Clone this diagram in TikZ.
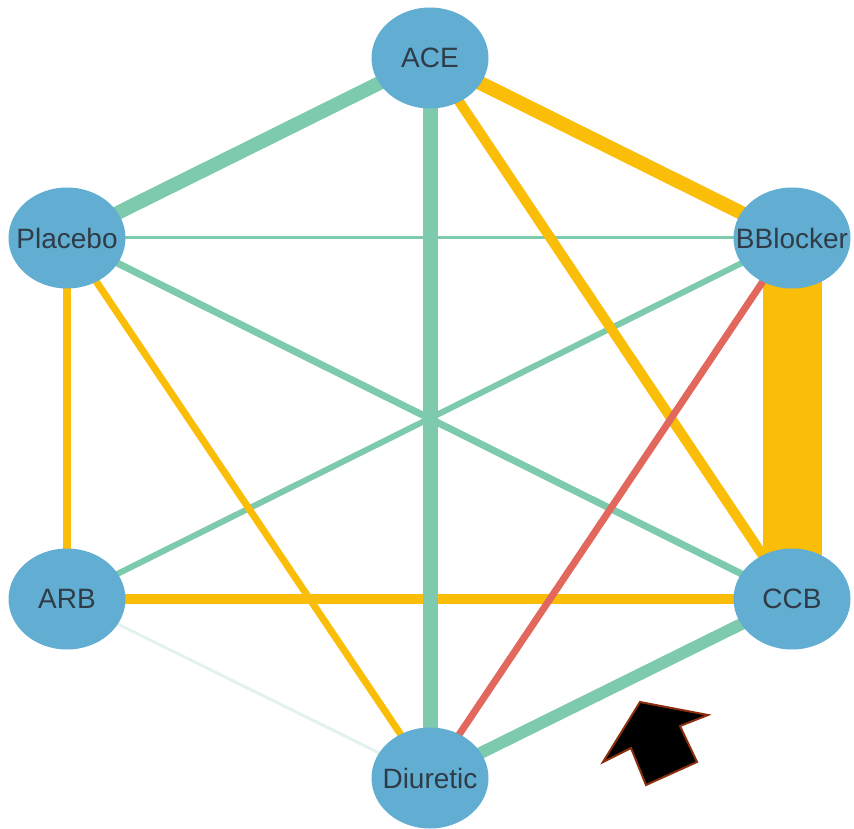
\documentclass[tikz,border=0pt]{standalone}
\usepackage{fontspec}
\setmainfont{Liberation Sans}
\usetikzlibrary{shapes.geometric}
\pgfdeclarelayer{background}
\pgfsetlayers{background,main}
\definecolor{nodeblue}{HTML}{62AED2}
\definecolor{lnkgreen}{HTML}{7ECAAD}
\definecolor{lnkorange}{HTML}{FABD08}
\definecolor{lnkred}{HTML}{E2675C}
\definecolor{lnkfaint}{HTML}{E4F2EE}
\definecolor{txtdark}{HTML}{2F3C48}
\definecolor{arrowrim}{HTML}{8A2E0C}
\tikzset{
  drug/.style={ellipse, fill=nodeblue, minimum width=117pt, minimum height=101pt, inner sep=0pt},
  lab/.style={text=txtdark, font=\fontsize{28}{32}\selectfont, inner sep=0pt},
  link/.style={line cap=butt},
  pointer/.style={fill=black, draw=arrowrim, line width=2pt, line join=miter}
}
\begin{document}
\begin{tikzpicture}[x=1pt,y=-1pt]
\useasboundingbox (0,0) rectangle (854,829);
% treatments
\node[drug, label={[lab]center:ACE}]      (ace) at (430,58)  {};
\node[drug, label={[lab]center:Placebo}]  (pla) at (67,238)  {};
\node[drug, label={[lab]center:BBlocker}] (bbl) at (792,238) {};
\node[drug, label={[lab]center:ARB}]      (arb) at (67,599)  {};
\node[drug, label={[lab]center:CCB}]      (ccb) at (792,599) {};
\node[drug, label={[lab]center:Diuretic}] (diu) at (430,778) {};
% comparisons, drawn beneath the nodes
\begin{pgfonlayer}{background}
\draw[link, lnkfaint, line width=3pt]   (arb.center) -- (diu.center);
\draw[link, lnkgreen, line width=3pt]   (pla.center) -- (bbl.center);
\draw[link, lnkgreen, line width=7pt]   (pla.center) -- (ccb.center);
\draw[link, lnkgreen, line width=6pt]   (bbl.center) -- (arb.center);
\draw[link, lnkorange, line width=8pt]  (pla.center) -- (arb.center);
\draw[link, lnkorange, line width=7pt]  (pla.center) -- (diu.center);
\draw[link, lnkorange, line width=10pt] (arb.center) -- (ccb.center);
\draw[link, lnkorange, line width=10pt] (ace.center) -- (ccb.center);
\draw[link, lnkorange, line width=14pt] (ace.center) -- (bbl.center);
\draw[link, lnkorange, line width=59pt] (bbl.center) -- (ccb.center);
\draw[link, lnkgreen, line width=14pt]  (ace.center) -- (pla.center);
\draw[link, lnkgreen, line width=15pt]  (ace.center) -- (diu.center);
\draw[link, lnkred, line width=7pt]     (bbl.center) -- (diu.center);
\draw[link, lnkgreen, line width=12pt]  (ccb.center) -- (diu.center);
\end{pgfonlayer}
% pointer arrow
\coordinate (p1) at (640,702);
\coordinate (p2) at (708,715);
\coordinate (p3) at (680,726);
\coordinate (p4) at (697,762);
\coordinate (p5) at (646,785);
\coordinate (p6) at (631,748);
\coordinate (p7) at (603,762);
\draw[pointer] (p1) -- (p2) -- (p3) -- (p4) -- (p5) -- (p6) -- (p7) -- cycle;
\end{tikzpicture}
\end{document}
